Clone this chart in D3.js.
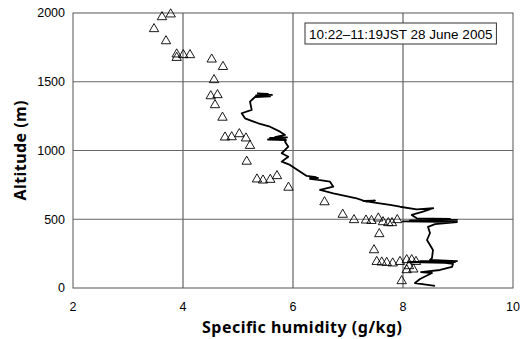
<!DOCTYPE html>
<html><head><meta charset="utf-8">
<script src="https://cdn.jsdelivr.net/npm/d3@7"></script>
<style>body{margin:0;background:#fff}svg{display:block}</style>
</head><body>
<script>
// Triangle observations (specific humidity g/kg, altitude m)
const triQ = [3.776,3.618,3.473,3.691,3.885,3.885,4.005,4.127,4.522,4.727,4.564,4.504,4.627,4.582,4.718,
  4.764,4.885,5.024,5.145,5.218,5.158,5.345,5.455,5.587,5.709,5.918,6.573,6.904,7.109,7.327,7.427,7.551,
  7.636,7.733,7.8,7.896,7.569,7.473,7.522,7.613,7.704,7.813,7.945,8.067,8.158,8.236,8.067,8.187,7.976,8.109];
const triAlt = [1991,1971,1884,1796,1700,1675,1695,1695,1663,1609,1513,1396,1404,1331,1240,
  1096,1098,1120,1089,1035,920,791,783,788,815,731,625,534,495,492,489,507,
  480,473,473,495,393,276,191,187,184,180,191,204,204,191,131,136,51,160];
// Continuous profile (bottom to top)
const lineQ = [8.582,8.218,8.309,8.527,8.327,8.673,8.891,8.909,
  8.764,8.127,8.945,8.309,8.982,8.491,8.527,8.545,8.436,8.491,8.455,8.582,
  8.982,8.0,8.945,8.127,8.982,8.309,8.855,8.249,8.158,8.364,8.551,8.249,7.945,7.764,
  7.545,7.273,7.491,7.327,7.158,6.733,6.491,6.733,6.673,
  6.491,6.309,6.455,6.309,6.418,6.249,5.945,5.795,5.915,5.795,5.915,5.855,
  5.873,5.545,5.855,5.582,5.891,5.673,5.855,5.764,5.582,5.369,5.127,5.067,5.249,5.218,5.309,
  5.582,5.327,5.618,5.364,5.545,5.345];
const lineAlt = [15,36,65,109,116,131,153,175,
  182,189,189,196,196,204,218,276,349,400,444,465,
  480,484,487,491,495,498,502,507,531,555,580,572,591,604,
  618,633,636,629,652,689,713,737,773,
  785,793,800,804,807,815,895,919,955,980,1028,1064,
  1076,1080,1084,1091,1095,1098,1113,1137,1173,1198,1234,1271,1295,1355,1389,
  1393,1400,1404,1407,1411,1415];
const xTicks = [2,4,6,8,10];
const yTicks = [0,500,1000,1500,2000];
const xTitle = "Specific humidity (g/kg)";
const yTitle = "Altitude (m)";
const boxText = "10:22\u201311:19JST 28 June 2005";

const W = 528, H = 339;
const m = {l:73, r:15, t:13, b:51};
const svg = d3.select("body").append("svg").attr("width", W).attr("height", H);
const x = d3.scaleLinear().domain([2,10]).range([m.l, W - m.r]);
const y = d3.scaleLinear().domain([0,2000]).range([H - m.b, m.t]);

// grid
svg.append("g").selectAll("line").data(xTicks.slice(1,-1)).join("line")
  .attr("x1", d=>x(d)).attr("x2", d=>x(d)).attr("y1", y(0)).attr("y2", y(2000))
  .attr("stroke", "#444").attr("stroke-width", 1);
svg.append("g").selectAll("line").data(yTicks.slice(1,-1)).join("line")
  .attr("x1", x(2)).attr("x2", x(10)).attr("y1", d=>y(d)).attr("y2", d=>y(d))
  .attr("stroke", "#666").attr("stroke-width", 1);
svg.append("rect").attr("x", x(2)).attr("y", y(2000)).attr("width", x(10)-x(2)).attr("height", y(0)-y(2000))
  .attr("fill", "none").attr("stroke", "#555").attr("stroke-width", 1);

// axes labels
const font = "'Liberation Sans', Arial, sans-serif";
svg.append("g").selectAll("text").data(yTicks).join("text")
  .attr("x", x(2) - 8).attr("y", d=>y(d)).attr("dy", "0.35em").attr("text-anchor", "end")
  .attr("font-family", font).attr("font-size", 12.5).text(d=>d);
svg.append("g").selectAll("text").data(xTicks).join("text")
  .attr("x", d=>x(d)).attr("y", H - m.b + 19).attr("dy", "0.35em").attr("text-anchor", "middle")
  .attr("font-family", font).attr("font-size", 12.5).text(d=>d);
svg.append("text").attr("x", 302).attr("y", 333).attr("text-anchor", "middle")
  .attr("font-family", "'Noto Sans', sans-serif").attr("font-weight", "bold").attr("font-size", 16)
  .attr("textLength", 200).attr("lengthAdjust", "spacing").text(xTitle);
svg.append("text").attr("transform", `translate(26,${(y(0)+y(2000))/2}) rotate(-90)`).attr("text-anchor", "middle")
  .attr("font-family", "'Noto Sans', sans-serif").attr("font-weight", "bold").attr("font-size", 16)
  .attr("textLength", 100).attr("lengthAdjust", "spacing").text(yTitle);

// profile line
const pts = lineQ.map((q,i)=>[q, lineAlt[i]]);
svg.append("path").datum(pts)
  .attr("d", d3.line().x(d=>x(d[0])).y(d=>y(d[1])))
  .attr("fill", "none").attr("stroke", "#000").attr("stroke-width", 1.8).attr("stroke-linejoin", "round");

// triangles
const tri = d3.symbol().type(d3.symbolTriangle).size(38);
svg.append("g").selectAll("path").data(triQ.map((q,i)=>[q, triAlt[i]])).join("path")
  .attr("transform", d=>`translate(${x(d[0])},${y(d[1])})`).attr("d", tri)
  .attr("fill", "none").attr("stroke", "#000").attr("stroke-width", 0.9);

// annotation box
const bx = 305, by = 23;
const g = svg.append("g");
const rect = g.append("rect").attr("x", bx).attr("y", by).attr("height", 21)
  .attr("fill", "#fff").attr("stroke", "#333").attr("stroke-width", 1);
const t = g.append("text").attr("x", bx + 4).attr("y", by + 11).attr("dy", "0.35em")
  .attr("font-family", font).attr("font-size", 13.5).text(boxText);
rect.attr("width", t.node().getBBox().width + 8);
</script>
</body></html>
